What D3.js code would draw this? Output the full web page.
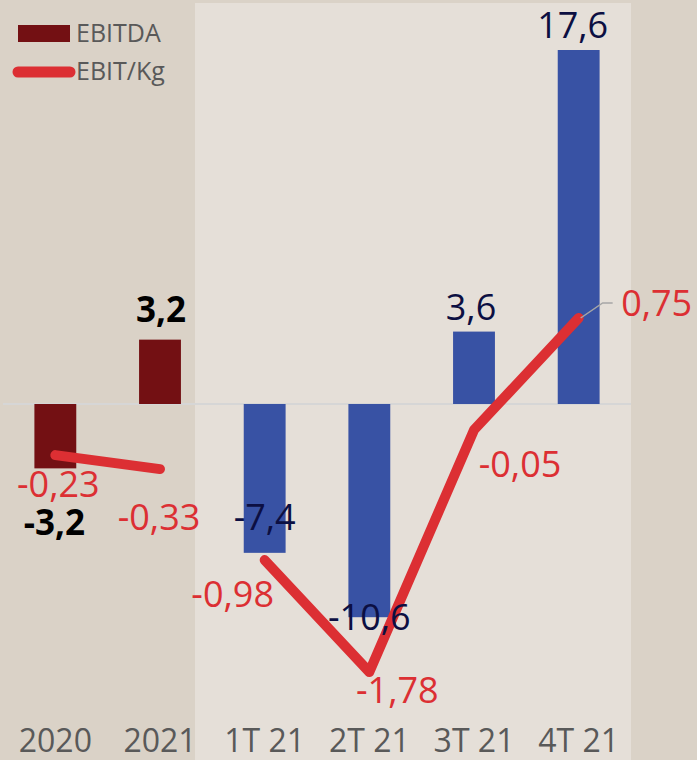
<!DOCTYPE html>
<html>
<head>
<meta charset="utf-8">
<script src="https://cdn.jsdelivr.net/npm/d3@7"></script>
<style>
  html, body { margin: 0; padding: 0; background: #dad2c7; }
  svg { display: block; }
  text { font-family: "Open Sans", "Noto Sans", sans-serif; }
</style>
</head>
<body>
<svg id="chart" width="697" height="760"></svg>
<script>
// ---- data ----
const categories = ["2020", "2021", "1T 21", "2T 21", "3T 21", "4T 21"];
const ebitda = [-3.2, 3.2, -7.4, -10.6, 3.6, 17.6];
const ebitKg = [-0.23, -0.33, -0.98, -1.78, -0.05, 0.75];
const lineSegments = [[0, 1], [2, 3, 4, 5]]; // annual vs quarterly
const legendLabels = ["EBITDA", "EBIT/Kg"];

// ---- layout / style (not data) ----
const W = 697, H = 760;
const colors = {
  bg: "#dad2c7", panel: "#e5dfd8", annualBar: "#731013", quarterBar: "#3852a4",
  line: "#dc2f33", navy: "#0c0f42", gray: "#595959", zero: "#d6d6d6", leader: "#a6a6a6"
};
// label offsets [dx, dy] relative to anchor
const barLabelOffsets = [[-1, 67], [1, -18], [0, -23], [0, 13], [-3, -12], [-6, -12]];
const lineLabelOffsets = [[3, 42], [-1, 61], [-32, 47], [28, 31], [46, 47], [78, -2]];

const locale = d3.formatLocale({decimal: ",", thousands: ".", grouping: [3], currency: ["", ""], minus: "-"});
const fmt1 = locale.format(".1f");
const fmt2 = locale.format(".2f");

const svg = d3.select("#chart");

// background + quarter panel
svg.append("rect").attr("x", 0).attr("y", 0).attr("width", W).attr("height", H).attr("fill", colors.bg);

const x = d3.scaleBand().domain(categories).range([3, 631]).paddingInner(0.6).paddingOuter(0.3);
const y = d3.scaleLinear().domain([0, 17.6]).range([404, 50]);
const y2 = d3.scaleLinear().domain([-1.78, 0.75]).range([672, 318]);

const panelX0 = 195;
svg.append("rect")
  .attr("x", panelX0).attr("y", 3)
  .attr("width", 631 - panelX0).attr("height", H - 3)
  .attr("fill", colors.panel);

// zero line
svg.append("line")
  .attr("x1", 3).attr("x2", 631)
  .attr("y1", y(0)).attr("y2", y(0))
  .attr("stroke", colors.zero).attr("stroke-width", 2);

// bars
svg.selectAll("rect.bar").data(categories).join("rect")
  .attr("class", "bar")
  .attr("x", d => x(d))
  .attr("width", x.bandwidth())
  .attr("y", (d, i) => y(Math.max(0, ebitda[i])))
  .attr("height", (d, i) => Math.abs(y(ebitda[i]) - y(0)))
  .attr("fill", (d, i) => i < 2 ? colors.annualBar : colors.quarterBar);

// line segments
const line = d3.line().x(i => x(categories[i]) + x.bandwidth() / 2).y(i => y2(ebitKg[i]));
svg.selectAll("path.seg").data(lineSegments).join("path")
  .attr("class", "seg")
  .attr("d", line)
  .attr("fill", "none")
  .attr("stroke", colors.line)
  .attr("stroke-width", 10)
  .attr("stroke-linecap", "round")
  .attr("stroke-linejoin", "round");

// bar value labels
svg.selectAll("text.barlab").data(categories).join("text")
  .attr("class", "barlab")
  .attr("x", (d, i) => x(d) + x.bandwidth() / 2 + barLabelOffsets[i][0])
  .attr("y", (d, i) => y(ebitda[i]) + barLabelOffsets[i][1])
  .attr("text-anchor", "middle")
  .attr("font-size", (d, i) => i < 2 ? 35 : 36)
  .attr("font-weight", (d, i) => i < 2 ? "bold" : "normal")
  .attr("fill", (d, i) => i < 2 ? "#000000" : colors.navy)
  .text((d, i) => fmt1(ebitda[i]));

// leader line for last line label
{
  const i = 5;
  const px = x(categories[i]) + x.bandwidth() / 2, py = y2(ebitKg[i]);
  svg.append("path")
    .attr("d", `M${px + 2},${py}L${px + 24},${py - 15}L${px + 34},${py - 15}`)
    .attr("fill", "none").attr("stroke", colors.leader).attr("stroke-width", 1.5);
}

// line value labels
svg.selectAll("text.linelab").data(categories).join("text")
  .attr("class", "linelab")
  .attr("x", (d, i) => x(d) + x.bandwidth() / 2 + lineLabelOffsets[i][0])
  .attr("y", (d, i) => y2(ebitKg[i]) + lineLabelOffsets[i][1])
  .attr("text-anchor", "middle")
  .attr("font-size", 36)
  .attr("fill", colors.line)
  .text((d, i) => fmt2(ebitKg[i]));

// x axis
const xAxis = d3.axisBottom(x).tickSize(0).tickPadding(0);
const gx = svg.append("g").attr("transform", "translate(0,729)").call(xAxis);
gx.select(".domain").remove();
gx.selectAll("text")
  .attr("font-size", 32)
  .attr("font-family", "Open Sans, Noto Sans, sans-serif")
  .attr("fill", colors.gray)
  .attr("dy", "0.72em");

// legend
const lg = svg.append("g");
lg.append("rect").attr("x", 18).attr("y", 25).attr("width", 52).attr("height", 17).attr("fill", colors.annualBar);
lg.append("text").attr("x", 76).attr("y", 42).attr("font-size", 25).attr("fill", colors.gray).text(legendLabels[0]);
lg.append("line").attr("x1", 18).attr("x2", 70).attr("y1", 72).attr("y2", 72)
  .attr("stroke", colors.line).attr("stroke-width", 11).attr("stroke-linecap", "round");
lg.append("text").attr("x", 76).attr("y", 80).attr("font-size", 25).attr("fill", colors.gray).text(legendLabels[1]);
</script>
</body>
</html>
